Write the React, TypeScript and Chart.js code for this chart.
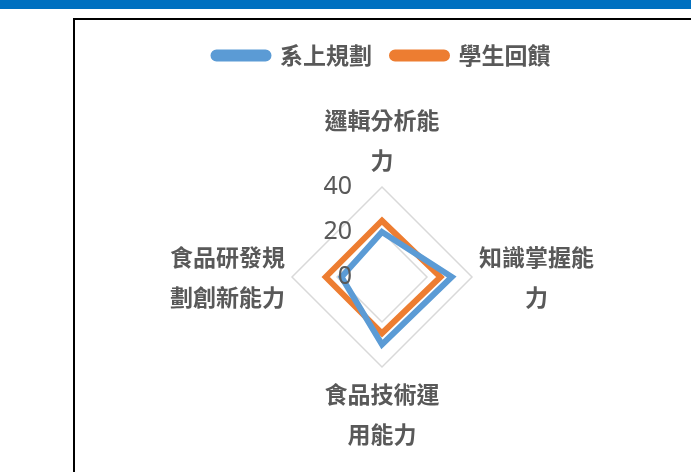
import React, { useEffect, useRef } from "react";
import { Chart, registerables } from "chart.js";

Chart.register(...registerables);

const categories: string[][] = [
  ["邏輯分析能", "力"],
  ["知識掌握能", "力"],
  ["食品技術運", "用能力"],
  ["食品研發規", "劃創新能力"],
];
const seriesNames = ["系上規劃", "學生回饋"];
const deptPlan = [20, 31, 30, 18];
const studentFeedback = [25, 26, 25, 25];
const tickValues = [0, 20, 40];

const FONT = "'Noto Sans CJK TC', 'Noto Sans', sans-serif";
const TEXT = "#595959";
const LABEL_SIZE = 23;
const LABEL_LINE = 40;

const legendGap = {
  id: "legendGap",
  beforeInit(chart: any) {
    const legend = chart.legend;
    if (!legend) return;
    const fit = legend.fit;
    legend.fit = function () {
      fit.call(this);
      this.height += 23;
    };
  },
};

const drawPlugin = {
  id: "customText",
  afterDraw(chart: any) {
    const scale = chart.scales.r;
    const ctx = chart.ctx;
    ctx.save();
    // tick labels to the left of the vertical axis
    ctx.font = `25px 'Noto Sans', ${FONT}`;
    ctx.fillStyle = TEXT;
    ctx.textAlign = "right";
    ctx.textBaseline = "middle";
    for (const v of tickValues) {
      const d = scale.getDistanceFromCenterForValue(v);
      ctx.fillText(String(v), scale.xCenter - 30, scale.yCenter - d);
    }
    // point labels, each line centred in its box
    ctx.font = `bold ${LABEL_SIZE}px ${FONT}`;
    ctx.textAlign = "center";
    categories.forEach((lines, i) => {
      const pos = scale.getPointLabelPosition(i);
      const cx = (pos.left + pos.right) / 2;
      lines.forEach((line, k) => {
        ctx.fillText(line, cx, pos.top + LABEL_LINE * (k + 0.5));
      });
    });
    ctx.restore();
  },
};

export default function App() {
  const ref = useRef<HTMLCanvasElement>(null);
  useEffect(() => {
    document.body.style.margin = "0";
    const chart = new Chart(ref.current!, {
      type: "radar",
      data: {
        labels: categories,
        datasets: [
          {
            label: seriesNames[0],
            data: deptPlan,
            borderColor: "#5B9BD5",
            backgroundColor: "#5B9BD5",
            borderWidth: 6,
            pointRadius: 0,
            fill: false,
          },
          {
            label: seriesNames[1],
            data: studentFeedback,
            borderColor: "#ED7D31",
            backgroundColor: "#ED7D31",
            borderWidth: 6,
            pointRadius: 0,
            fill: false,
          },
        ],
      },
      options: {
        animation: false,
        responsive: false,
        layout: { padding: { top: 4, bottom: 18, left: 0, right: 0 } },
        plugins: {
          tooltip: { enabled: false },
          legend: {
            position: "top",
            labels: {
              boxWidth: 55,
              boxHeight: 6,
              useBorderRadius: true,
              borderRadius: 3,
              color: TEXT,
              font: { family: FONT, size: 23, weight: "bold" },
              padding: 20,
            },
          },
        },
        scales: {
          r: {
            min: 0,
            max: 40,
            ticks: { stepSize: 20, display: false },
            grid: { color: "#D9D9D9", lineWidth: 1.5 },
            angleLines: { display: false },
            pointLabels: {
              color: "rgba(0,0,0,0)",
              font: { family: FONT, size: LABEL_SIZE, weight: "bold", lineHeight: LABEL_LINE / LABEL_SIZE },
              padding: 7,
            },
          },
        },
      },
      plugins: [legendGap, drawPlugin],
    });
    return () => chart.destroy();
  }, []);

  return (
    <div style={{ position: "relative", width: 691, height: 472, overflow: "hidden", background: "#fff" }}>
      <div style={{ position: "absolute", left: 0, top: 0, width: 691, height: 9, background: "#0070C0" }} />
      <div
        style={{
          position: "absolute",
          left: 73,
          top: 18,
          width: 640,
          height: 480,
          border: "2px solid #000",
          boxSizing: "border-box",
        }}
      />
      <canvas
        ref={ref}
        width={614}
        height={452}
        style={{ position: "absolute", left: 75, top: 20, width: 614, height: 452 }}
      />
    </div>
  );
}
